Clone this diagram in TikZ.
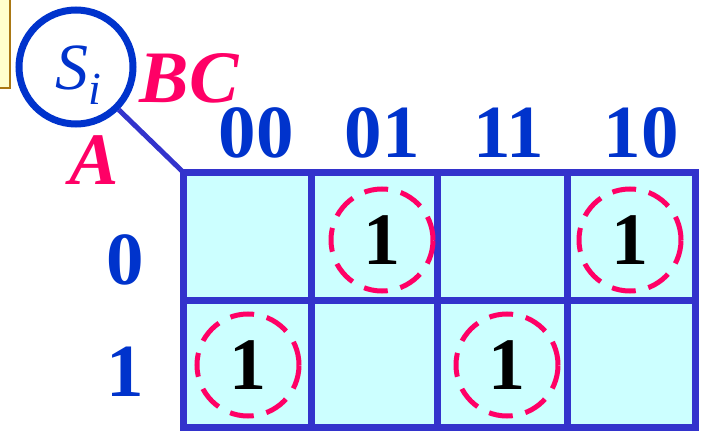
\documentclass[tikz,border=0pt]{standalone}
\usepackage{fontspec}
\setmainfont{Liberation Serif}
\definecolor{mapblue}{RGB}{51,51,204}
\definecolor{txtblue}{RGB}{0,51,204}
\definecolor{hotpink}{RGB}{255,0,102}
\definecolor{cellfill}{RGB}{204,255,255}
\definecolor{notefill}{RGB}{255,255,204}
\definecolor{noteedge}{RGB}{170,120,20}
\tikzset{
  kmap/.style={draw=mapblue, line width=7pt},
  bitlbl/.style={text=txtblue, font=\fontsize{75}{75}\selectfont\bfseries, inner sep=0pt},
  varlbl/.style={text=hotpink, font=\fontsize{74}{74}\selectfont\bfseries\itshape, inner sep=0pt},
  onecirc/.style={circle, draw=hotpink, line width=5pt, dash pattern=on 24pt off 13pt,
    minimum size=102pt, inner sep=0pt, font=\fontsize{74}{74}\selectfont\bfseries}
}
\begin{document}
\begin{tikzpicture}[x=1pt,y=-1pt]
    \useasboundingbox (0,0) rectangle (701,433);
    % note box cut by the left edge
    \draw[fill=notefill, draw=noteedge, line width=1.5pt] (-20,-10) rectangle (10,88);
    % the map
    \fill[cellfill] (183,172) rectangle (695,427);
    \foreach \x in {311,437,567} {
        \draw[kmap] (\x,172) -- (\x,427);
    }
    \draw[kmap] (183,300) -- (695,300);
    \draw[kmap] (183,172) rectangle (695,427);
    \coordinate (corner) at (183,172);
    % function name and variables
    \node[circle, draw=txtblue, line width=7pt, minimum size=114pt] (si) at (76,67) {};
    \node[text=txtblue, inner sep=0pt] (sname) at (78,75)
        {\fontsize{66}{66}\selectfont\itshape S\raisebox{-15pt}{\fontsize{46}{46}\selectfont i}};
    \draw[draw=mapblue, line width=5pt] (si.-45) -- (corner);
    \node[varlbl] (bc) at (189,78) {BC};
    \node[varlbl] (a) at (94,160) {A};
    \foreach \x/\t in {256/00, 382/01, 509/11, 641/10} {
        \node[bitlbl] (col\t) at (\x,133) {\t};
    }
    \foreach \y/\t in {260/0, 372/1} {
        \node[bitlbl] (row\t) at (125,\y) {\t};
    }
    % minterms
    \foreach \x/\y/\n in {382/240/m1, 630/240/m2, 248/365/m4, 507/365/m7} {
        \node[onecirc] (\n) at (\x,\y) {1};
    }
\end{tikzpicture}
\end{document}
